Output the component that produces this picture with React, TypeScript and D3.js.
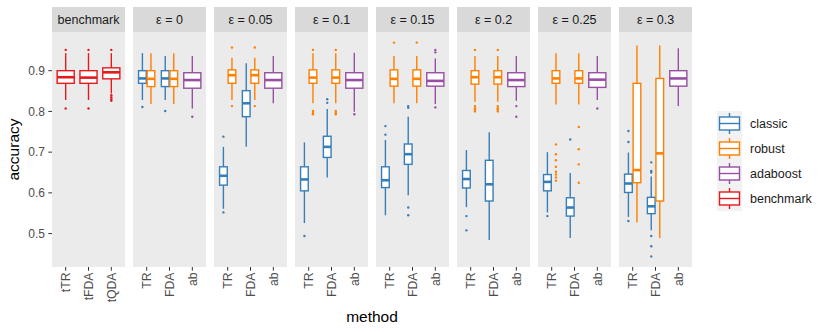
import React from "react";
import * as d3 from "d3";

// facet strips and categories
const panels = ["benchmark", "ε = 0", "ε = 0.05", "ε = 0.1", "ε = 0.15", "ε = 0.2", "ε = 0.25", "ε = 0.3"];
const benchmarkMethods = ["tTR", "tFDA", "tQDA"];
const epsMethods = ["TR", "FDA", "ab"];
const yTicks = [0.5, 0.6, 0.7, 0.8, 0.9];

const groups = ["classic", "robust", "adaboost", "benchmark"];
const groupColors = ["#377EB8", "#FF7F00", "#984EA3", "#E41A1C"];

// box stats: [lower whisker, q1, median, q3, upper whisker]
const benchmarkStats = [
  [0.828, 0.869, 0.884, 0.9, 0.943],
  [0.828, 0.869, 0.883, 0.9, 0.943],
  [0.844, 0.88, 0.896, 0.907, 0.943],
];
const benchmarkOut = [[0.951, 0.807], [0.951, 0.807], [0.951, 0.84, 0.835, 0.83, 0.826]];

// one entry per epsilon panel (0 .. 0.3)
const classicTR = [
  [0.828, 0.869, 0.881, 0.9, 0.943],
  [0.561, 0.619, 0.642, 0.664, 0.713],
  [0.526, 0.605, 0.633, 0.664, 0.724],
  [0.545, 0.613, 0.631, 0.664, 0.73],
  [0.565, 0.612, 0.634, 0.655, 0.705],
  [0.552, 0.605, 0.627, 0.645, 0.7],
  [0.541, 0.601, 0.623, 0.646, 0.699],
];
const classicTROut = [[0.811], [0.738, 0.552], [0.494], [0.764, 0.743], [0.543, 0.508], [0.543], [0.752, 0.725, 0.531]];

const classicFDA = [
  [0.828, 0.861, 0.881, 0.9, 0.936],
  [0.713, 0.787, 0.82, 0.851, 0.918],
  [0.638, 0.687, 0.713, 0.739, 0.806],
  [0.594, 0.67, 0.695, 0.72, 0.787],
  [0.484, 0.58, 0.621, 0.68, 0.749],
  [0.489, 0.543, 0.564, 0.588, 0.649],
  [0.508, 0.549, 0.567, 0.589, 0.64],
];
const classicFDAOut = [[0.801], [], [0.83, 0.821], [0.813, 0.809, 0.564, 0.545], [], [0.731], [0.675, 0.654, 0.65, 0.494, 0.469, 0.444]];

const robustTR = [
  [0.818, 0.861, 0.88, 0.9, 0.943],
  [0.828, 0.869, 0.889, 0.902, 0.932],
  [0.82, 0.869, 0.883, 0.902, 0.943],
  [0.82, 0.862, 0.88, 0.902, 0.936],
  [0.824, 0.867, 0.884, 0.9, 0.936],
  [0.817, 0.869, 0.881, 0.9, 0.943],
  [0.527, 0.625, 0.656, 0.869, 0.962],
];
const robustTROut = [[], [0.957, 0.813], [0.951, 0.801, 0.796, 0.793], [0.969], [0.951, 0.813, 0.808, 0.804, 0.8], [0.719, 0.695, 0.68, 0.664, 0.652, 0.645, 0.638, 0.63], []];

const robustFDA = [
  [0.818, 0.861, 0.88, 0.9, 0.943],
  [0.828, 0.869, 0.889, 0.902, 0.932],
  [0.82, 0.869, 0.883, 0.902, 0.943],
  [0.82, 0.862, 0.88, 0.902, 0.936],
  [0.824, 0.867, 0.884, 0.9, 0.936],
  [0.817, 0.869, 0.881, 0.9, 0.943],
  [0.489, 0.58, 0.697, 0.881, 0.962],
];
const robustFDAOut = [[], [0.957, 0.813], [0.951, 0.801, 0.796, 0.793], [0.969], [0.951, 0.813, 0.808, 0.804, 0.8], [0.762, 0.707, 0.67, 0.625], []];

const adaboost = [
  [0.807, 0.857, 0.877, 0.895, 0.936],
  [0.82, 0.857, 0.877, 0.895, 0.936],
  [0.799, 0.857, 0.877, 0.895, 0.944],
  [0.818, 0.862, 0.875, 0.895, 0.93],
  [0.826, 0.861, 0.877, 0.895, 0.936],
  [0.828, 0.859, 0.878, 0.895, 0.936],
  [0.813, 0.862, 0.881, 0.9, 0.955],
];
const adaboostOut = [[0.787], [], [0.793], [0.951, 0.945, 0.81], [0.813, 0.787], [0.807], []];

const W = 830, H = 332;
const panelX0 = 52, panelW = 73, panelGap = 8;
const stripTop = 7, stripH = 25;
const plotTop = stripTop + stripH, plotBottom = 267;
const font = "'Liberation Sans', Arial, sans-serif";

const y = d3.scaleLinear().domain([0.418, 0.995]).range([plotBottom, plotTop]);

type Box = { cx: number; w: number; stats: number[]; out: number[]; color: string };

function panelScale(i: number) {
  const x0 = panelX0 + i * (panelW + panelGap);
  const cats = i === 0 ? benchmarkMethods : epsMethods;
  const x = d3.scalePoint<string>().domain(cats).range([x0, x0 + panelW]).padding(0.6);
  return { x0, cats, x };
}

function buildBoxes(): Box[] {
  const boxes: Box[] = [];
  panels.forEach((p, i) => {
    const { cats, x } = panelScale(i);
    const bw = x.step() * 0.75;
    if (i === 0) {
      cats.forEach((c, j) =>
        boxes.push({ cx: x(c)!, w: bw, stats: benchmarkStats[j], out: benchmarkOut[j], color: groupColors[3] })
      );
      return;
    }
    const k = i - 1;
    const dodge = d3.scaleBand<string>().domain(["classic", "robust"]).range([-bw / 2, bw / 2]);
    const half = dodge.bandwidth();
    const at = (m: string, g: string) => x(m)! + dodge(g)! + half / 2;
    boxes.push({ cx: at("TR", "classic"), w: half * 0.9, stats: classicTR[k], out: classicTROut[k], color: groupColors[0] });
    boxes.push({ cx: at("TR", "robust"), w: half * 0.9, stats: robustTR[k], out: robustTROut[k], color: groupColors[1] });
    boxes.push({ cx: at("FDA", "classic"), w: half * 0.9, stats: classicFDA[k], out: classicFDAOut[k], color: groupColors[0] });
    boxes.push({ cx: at("FDA", "robust"), w: half * 0.9, stats: robustFDA[k], out: robustFDAOut[k], color: groupColors[1] });
    boxes.push({ cx: x("ab")!, w: bw, stats: adaboost[k], out: adaboostOut[k], color: groupColors[2] });
  });
  return boxes;
}

function BoxMark({ b }: { b: Box }) {
  const [lo, q1, med, q3, hi] = b.stats;
  const l = b.cx - b.w / 2;
  return (
    <g stroke={b.color}>
      <line x1={b.cx} x2={b.cx} y1={y(hi)} y2={y(q3)} strokeWidth={1.4} />
      <line x1={b.cx} x2={b.cx} y1={y(q1)} y2={y(lo)} strokeWidth={1.4} />
      <rect x={l} y={y(q3)} width={b.w} height={y(q1) - y(q3)} fill="white" strokeWidth={1.4} />
      <line x1={l} x2={l + b.w} y1={y(med)} y2={y(med)} strokeWidth={2.6} />
      {b.out.map((o, i) => (
        <circle key={i} cx={b.cx} cy={y(o)} r={1.2} fill={b.color} stroke="none" />
      ))}
    </g>
  );
}

export default function App() {
  const boxes = buildBoxes();
  const legendTop = 111, keyH = 25;
  const plotRight = panelX0 + 8 * panelW + 7 * panelGap;
  return (
    <svg width={W} height={H} style={{ position: "absolute", left: 0, top: 0 }} fontFamily={font}>
      <rect width={W} height={H} fill="white" />
      {panels.map((p, i) => {
        const { x0, cats, x } = panelScale(i);
        return (
          <g key={p}>
            <rect x={x0} y={stripTop} width={panelW} height={stripH} fill="#D9D9D9" />
            <text x={x0 + panelW / 2} y={stripTop + stripH / 2 + 4.3} textAnchor="middle" fontSize={12.5} fill="#1A1A1A">
              {p}
            </text>
            <rect x={x0} y={plotTop} width={panelW} height={plotBottom - plotTop} fill="#EBEBEB" />
            {cats.map((c) => (
              <g key={c}>
                <line x1={x(c)} x2={x(c)} y1={plotBottom} y2={plotBottom + 3.7} stroke="#333333" strokeWidth={1} />
                <text
                  transform={`translate(${x(c)! + 4.4},${plotBottom + 5.5}) rotate(-90)`}
                  textAnchor="end"
                  fontSize={12.2}
                  fill="#4D4D4D"
                >
                  {c}
                </text>
              </g>
            ))}
          </g>
        );
      })}
      {yTicks.map((t) => (
        <g key={t}>
          <line x1={panelX0 - 3.7} x2={panelX0} y1={y(t)} y2={y(t)} stroke="#333333" strokeWidth={1} />
          <text x={panelX0 - 7} y={y(t) + 4.3} textAnchor="end" fontSize={12} fill="#4D4D4D">
            {d3.format(".1f")(t)}
          </text>
        </g>
      ))}
      {boxes.map((b, i) => (
        <BoxMark key={i} b={b} />
      ))}
      <text transform={`translate(19,${(plotTop + plotBottom) / 2}) rotate(-90)`} textAnchor="middle" fontSize={15.5} fill="black">
        accuracy
      </text>
      <text x={(panelX0 + plotRight) / 2} y={321.5} textAnchor="middle" fontSize={15.5} fill="black">
        method
      </text>
      <g>
        {groups.map((g, i) => {
          const top = legendTop + i * keyH;
          const c = groupColors[i];
          return (
            <g key={g}>
              <rect x={717} y={top} width={25} height={keyH} fill="#F2F2F2" />
              <line x1={729.5} x2={729.5} y1={top + 2} y2={top + 23} stroke={c} strokeWidth={1.4} />
              <rect x={719.5} y={top + 6} width={20} height={13} fill="white" stroke={c} strokeWidth={1.4} />
              <line x1={719.5} x2={739.5} y1={top + 12.5} y2={top + 12.5} stroke={c} strokeWidth={1.4} />
              <text x={750} y={top + 17} fontSize={12.5} fill="#1A1A1A">
                {g}
              </text>
            </g>
          );
        })}
      </g>
    </svg>
  );
}
